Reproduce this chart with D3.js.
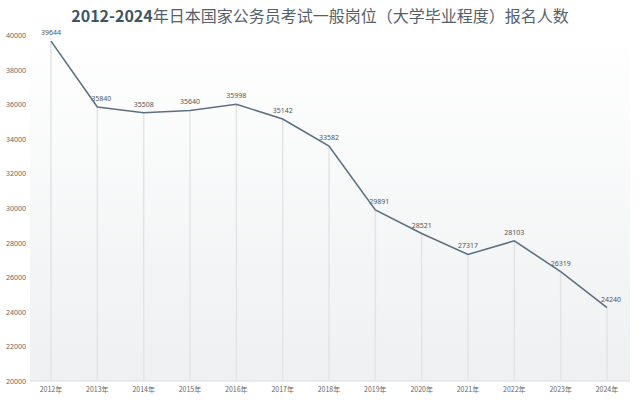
<!DOCTYPE html><html><head><meta charset="utf-8"><script src="https://cdn.jsdelivr.net/npm/d3@7"></script>
<style>body{margin:0;background:#fff}</style></head><body><svg id="c" width="640" height="401"></svg><script>
const years=["2012年","2013年","2014年","2015年","2016年","2017年","2018年","2019年","2020年","2021年","2022年","2023年","2024年"];
const values=[39644,35840,35508,35640,35998,35142,33582,29891,28521,27317,28103,26319,24240];
const yTicks=[20000,22000,24000,26000,28000,30000,32000,34000,36000,38000,40000];
const svg=d3.select("#c");
const g0=svg.append("defs").append("linearGradient").attr("id","bg").attr("x1",0).attr("y1",0).attr("x2",0).attr("y2",1);
g0.append("stop").attr("offset","0%").attr("stop-color","#ffffff");
g0.append("stop").attr("offset","100%").attr("stop-color","#eef0f1");
svg.append("rect").attr("x",30).attr("y",30).attr("width",600).attr("height",351).attr("fill","url(#bg)");
const x=d3.scalePoint().domain(years).range([51,607]);
const y=d3.scaleLinear().domain([20000,40000]).range([381,35]);
const t=svg.append("text").attr("x",320).attr("y",22).attr("text-anchor","middle").attr("font-family","Noto Sans CJK SC").attr("font-size",16).attr("fill","#3d5566");
t.append("tspan").attr("font-weight","bold").text("2012-2024");
t.append("tspan").attr("fill","#55606a").text("年日本国家公务员考试一般岗位（大学毕业程度）报名人数");
yTicks.forEach(v=>svg.append("text").attr("x",26).attr("y",y(v)+3).attr("text-anchor","end").attr("font-family","Noto Sans").attr("font-size",7).attr("fill","#666").text(v));
svg.append("line").attr("x1",30).attr("x2",630).attr("y1",381).attr("y2",381).attr("stroke","#ddd");
const dx=[0,4,0,0,0,0,0,4,0,0,0,0,4];
years.forEach((yr,i)=>{
 svg.append("line").attr("x1",x(yr)).attr("x2",x(yr)).attr("y1",y(values[i])).attr("y2",381).attr("stroke","#e2e4e6").attr("stroke-width",1.5);
 svg.append("text").attr("x",x(yr)).attr("y",392).attr("text-anchor","middle").attr("font-family","Noto Sans CJK SC").attr("font-size",7).attr("fill","#666").text(yr);
 svg.append("text").attr("x",x(yr)+dx[i]).attr("y",y(values[i])-6).attr("text-anchor","middle").attr("font-family","Noto Sans").attr("font-size",7).attr("fill","#555").text(values[i]);
});
svg.append("path").datum(values).attr("fill","none").attr("stroke","#5d7080").attr("stroke-width",1.6)
 .attr("d",d3.line().x((d,i)=>x(years[i])).y(d=>y(d)));
</script></body></html>
